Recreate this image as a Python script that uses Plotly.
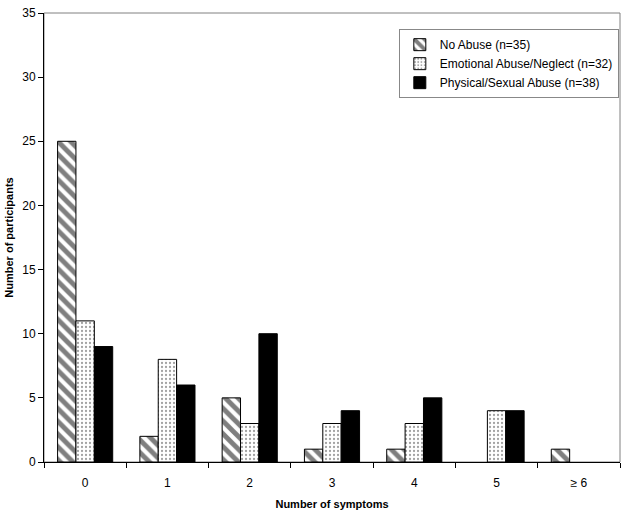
import plotly.graph_objects as go

categories = ["0", "1", "2", "3", "4", "5", "≥ 6"]
no_abuse = [25, 2, 5, 1, 1, 0, 1]
emotional = [11, 8, 3, 3, 3, 4, 0]
physical = [9, 6, 10, 4, 5, 4, 0]

names = ["No Abuse (n=35)", "Emotional Abuse/Neglect (n=32)", "Physical/Sexual Abuse (n=38)"]


def hide_zero(vals):
    # empty categories draw nothing in the original
    return [v if v else None for v in vals]


fig = go.Figure()

fig.add_trace(go.Bar(
    x=categories, y=hide_zero(no_abuse), name=names[0],
    marker=dict(color="white", line=dict(color="black", width=1),
                pattern=dict(shape="\\", fgcolor="black", bgcolor="white", size=9, solidity=0.55)),
))
fig.add_trace(go.Bar(
    x=categories, y=hide_zero(emotional), name=names[1],
    marker=dict(color="white", line=dict(color="black", width=1),
                pattern=dict(shape=".", fgcolor="#444444", bgcolor="white", size=4, solidity=0.25)),
))
fig.add_trace(go.Bar(
    x=categories, y=hide_zero(physical), name=names[2],
    marker=dict(color="black", line=dict(color="black", width=1)),
))

font = "Liberation Sans, Arial, sans-serif"

# gray frame on the top and right of the plot area
fig.add_shape(type="rect", xref="paper", yref="paper", x0=0, y0=0, x1=1, y1=1,
              line=dict(color="#808080", width=1), layer="below")

fig.update_layout(
    width=627, height=517,
    margin=dict(l=44, r=7, t=13, b=55),
    barmode="group", bargap=0.33, bargroupgap=0,
    plot_bgcolor="white", paper_bgcolor="white",
    font=dict(family=font, size=12, color="black"),
    showlegend=True,
    legend=dict(x=0.616, y=0.964, xanchor="left", yanchor="top",
                bordercolor="#888888", borderwidth=1, bgcolor="white",
                font=dict(size=12), tracegroupgap=0, itemwidth=30),
    xaxis=dict(
        type="category", range=[-0.5, 6.5], automargin=False,
        showline=True, linecolor="black", linewidth=1,
        ticks="outside", tickson="boundaries", ticklen=5, tickcolor="black",
        showgrid=False, ticklabelstandoff=10,
        title=dict(text="<b>Number of symptoms</b>", font=dict(size=11), standoff=10),
    ),
    yaxis=dict(
        range=[0, 35], dtick=5, automargin=False,
        showline=True, linecolor="black", linewidth=1,
        ticks="outside", ticklen=5, tickcolor="black",
        showgrid=False, zeroline=False,
        title=dict(text="<b>Number of participants</b>", font=dict(size=11), standoff=6),
    ),
)

# drop the default page margin so the figure sits at the window's corner
fig.write_html("out.html", config={"displayModeBar": False},
               post_script="document.body.style.margin='0';")
